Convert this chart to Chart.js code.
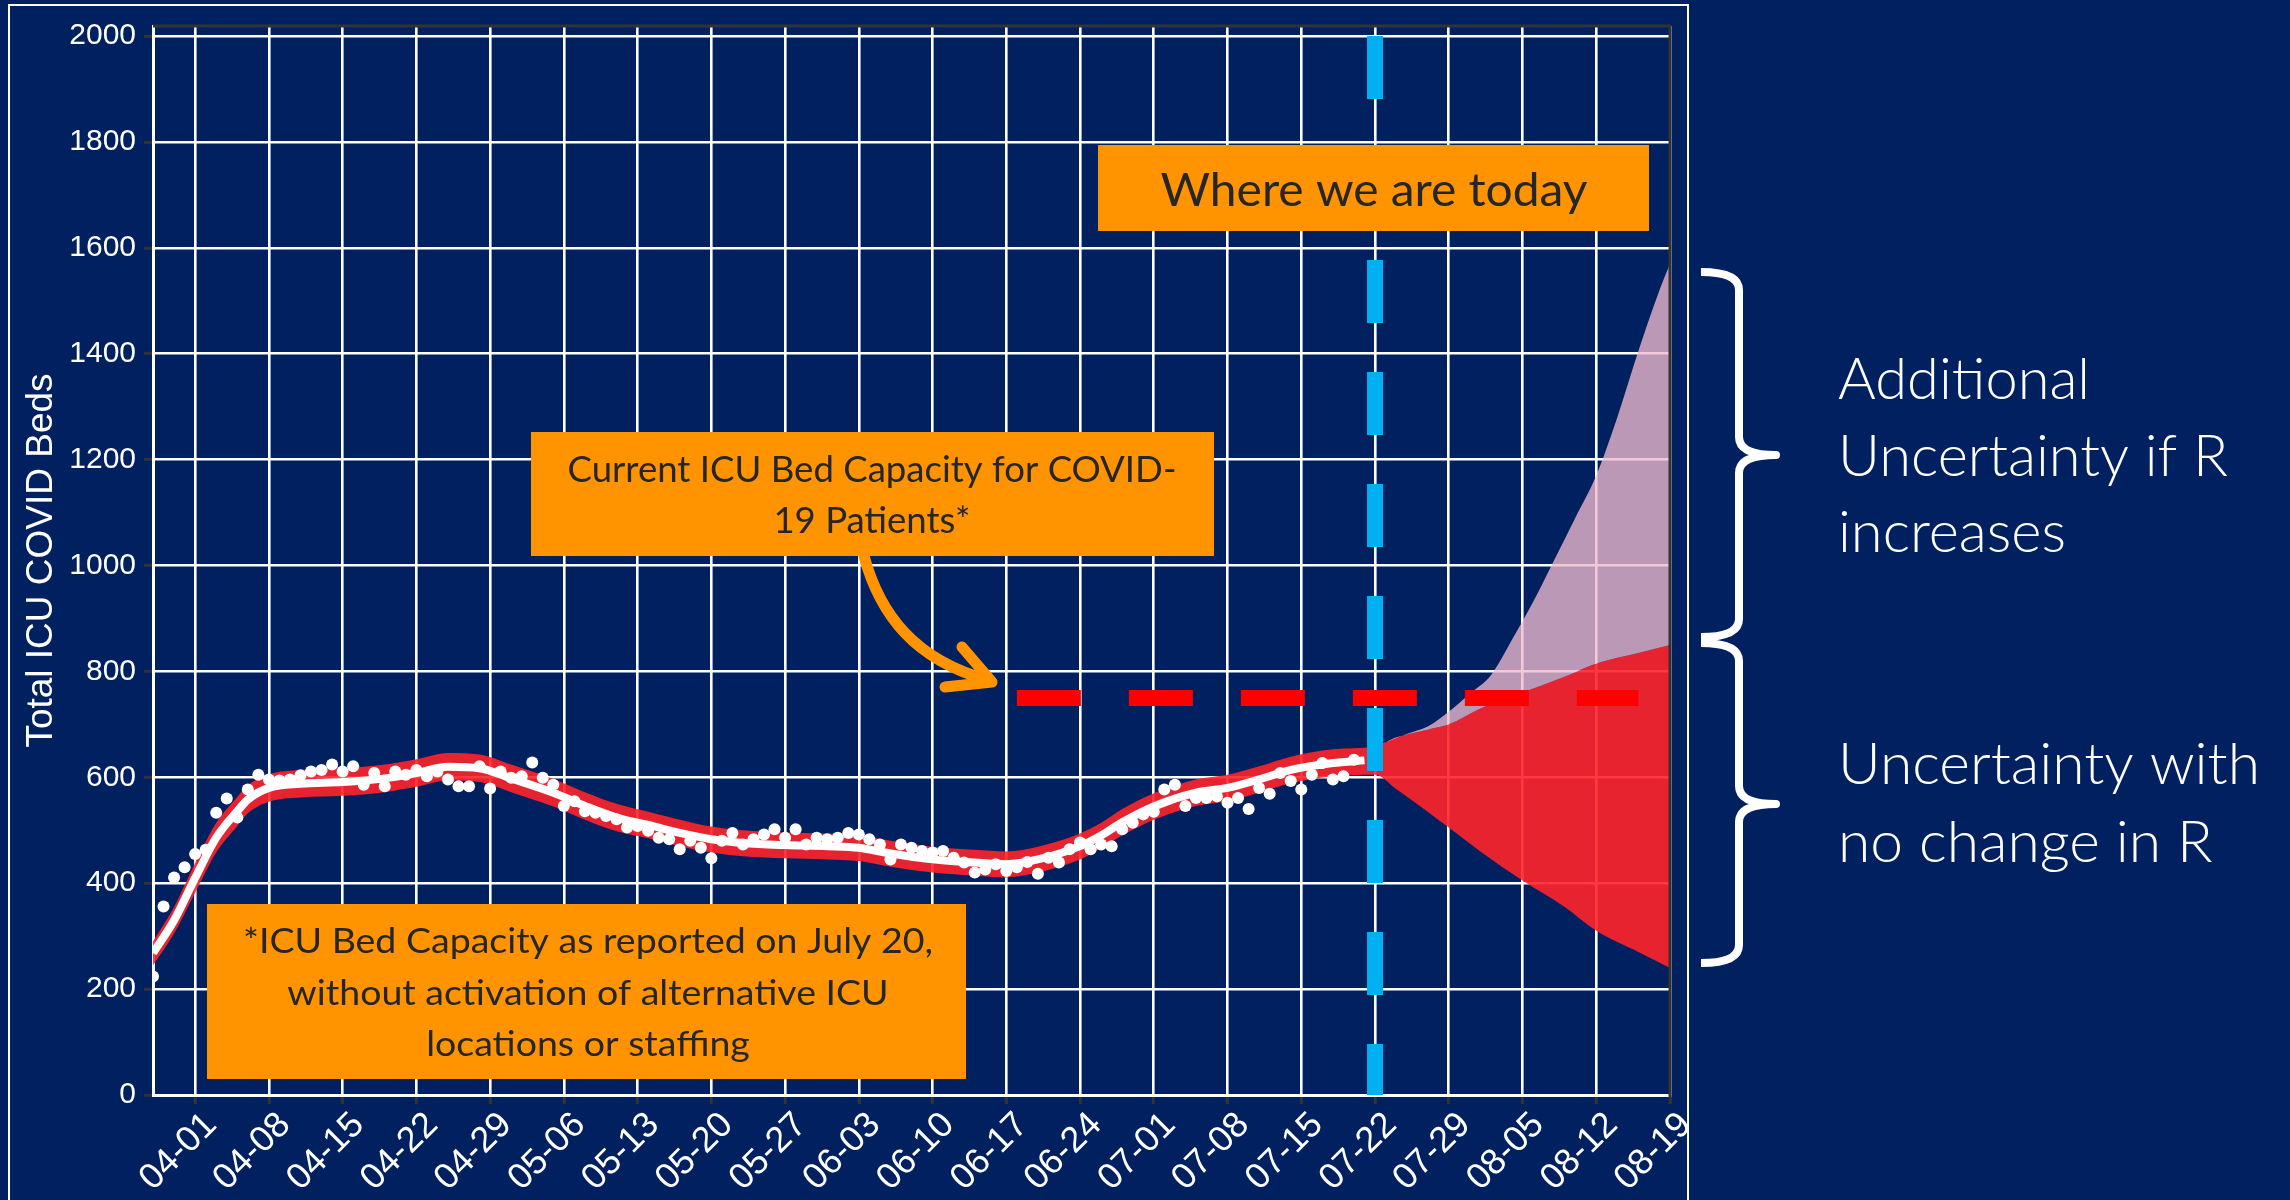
<!DOCTYPE html>
<html>
<head>
<meta charset="utf-8">
<script src="https://cdn.jsdelivr.net/npm/chart.js"></script>
<style>
  html, body { margin: 0; padding: 0; background: #002060; }
  canvas { display: block; }
</style>
</head>
<body>
<canvas id="icu" width="2290" height="1200" style="width:2290px;height:1200px"></canvas>
<script>
// ── Axis ticks (x values are days from 04-01) ──
const tickDays = [0, 7, 14, 21, 28, 35, 42, 49, 56, 63, 70, 77, 84, 91, 98, 105, 112, 119, 126, 133, 140];
const tickLabels = ['04-01', '04-08', '04-15', '04-22', '04-29', '05-06', '05-13', '05-20', '05-27', '06-03',
  '06-10', '06-17', '06-24', '07-01', '07-08', '07-15', '07-22', '07-29', '08-05', '08-12', '08-19'];
const yTicks = [0, 200, 400, 600, 800, 1000, 1200, 1400, 1600, 1800, 2000];

// ── Daily observed ICU beds, starting 03-28 (day -4) ──
const obsStartDay = -4;
const obsValues = [
  224, 356, 411, 430, 455, 463, 533, 560, 524, 577,
  605, 596, 594, 596, 604, 611, 614, 624, 611, 621,
  586, 608, 583, 611, 605, 614, 602, 611, 596, 583,
  583, 621, 579, 611, 599, 602, 628, 599, 586, 546,
  555, 536, 533, 527, 521, 505, 508, 499, 486, 483,
  464, 480, 467, 447, 480, 495, 473, 483, 492, 502,
  486, 502, 473, 486, 483, 486, 495, 492, 483, 473,
  445, 473, 467, 461, 458, 461, 448, 439, 420, 426,
  436, 423, 430, 440, 418, 448, 439, 464, 477, 464,
  473, 470, 502, 514, 530, 535, 577, 586, 546, 561,
  561, 564, 552, 561, 540, 580, 569, 608, 593, 577,
  605, 627, 596, 602, 633
];

// ── Model fit ──
const fitDays = [-4, -2, 0, 2, 4, 5, 7, 10, 14, 18, 21, 24, 27, 30, 34, 37, 40, 43, 46, 49, 52, 56, 60, 63,
  66, 70, 74, 77, 80, 84, 86, 88, 91, 95, 98, 101, 104, 108, 111];
const fitValues = [268, 330, 410, 486, 536, 558, 580, 588, 591, 598, 608, 620, 617, 598, 571, 546, 524, 510, 495,
  483, 476, 472, 470, 467, 456, 445, 439, 436, 445, 470, 490, 515, 545, 571, 580, 596, 614, 627, 632];

// ── Uncertainty band (no change in R) ──
const bandDays = [-4, -2, 0, 2, 4, 5, 7, 10, 14, 18, 21, 24, 27, 30, 34, 37, 40, 43, 46, 49, 52, 56, 60, 63,
  66, 70, 74, 77, 80, 84, 86, 88, 91, 95, 98, 101, 104, 108, 112,
  114, 117, 119, 122, 126, 130, 133, 137, 140];
const bandUpper = [290, 355, 438, 514, 563, 585, 606, 614, 617, 624, 634, 646, 643, 624, 597, 572, 550, 535, 520,
  507, 500, 496, 494, 491, 480, 469, 463, 460, 469, 494, 514, 540, 570, 596, 605, 621, 639, 653, 658,
  675, 690, 700, 730, 760, 790, 815, 835, 850];
const bandLower = [245, 305, 382, 458, 508, 532, 554, 562, 565, 572, 582, 594, 591, 572, 545, 520, 498, 485, 470,
  458, 451, 447, 445, 442, 431, 420, 414, 411, 420, 445, 466, 490, 520, 546, 555, 571, 589, 602, 605,
  578, 535, 505, 460, 405, 355, 310, 270, 240];

// ── Additional uncertainty if R increases (upper edge) ──
const riseDays = [112, 115, 117, 119, 121, 123, 125, 127, 129, 131, 133, 135, 137, 139, 140];
const riseUpper = [658, 682, 696, 724, 758, 793, 860, 931, 1010, 1090, 1170, 1280, 1405, 1520, 1570];

// ── Reference lines ──
const capacityBeds = 750;
const capacityDays = [78, 137];
const todayDay = 112;
const todaySpan = [2000, 0];

const pts = (days, vals) => days.map((d, i) => ({ x: d, y: vals[i] }));

const NAVY = '#002060';
const ORANGE = '#FF9400';
const BOX_TEXT = '#262626';

function drawLines(ctx, lines, x, baselines, font, color, fitWidth, align) {
  ctx.save();
  ctx.font = font;
  const widest = Math.max(...lines.map(l => ctx.measureText(l).width));
  const sx = fitWidth / widest;
  ctx.fillStyle = color;
  ctx.textAlign = align;
  ctx.textBaseline = 'alphabetic';
  lines.forEach((l, i) => {
    ctx.save();
    ctx.translate(x, baselines[i]);
    ctx.scale(sx, 1);
    ctx.fillText(l, 0, 0);
    ctx.restore();
  });
  ctx.restore();
}

function brace(ctx, x0, xs, xt, top, mid, bot) {
  const r = 18;
  ctx.beginPath();
  ctx.moveTo(x0, top);
  ctx.quadraticCurveTo(xs, top, xs, top + r);
  ctx.lineTo(xs, mid - r);
  ctx.quadraticCurveTo(xs, mid, xt, mid);
  ctx.quadraticCurveTo(xs, mid, xs, mid + r);
  ctx.lineTo(xs, bot - r);
  ctx.quadraticCurveTo(xs, bot, x0, bot);
  ctx.stroke();
}

const decorations = {
  id: 'decorations',
  beforeDraw(chart) {
    const ctx = chart.ctx;
    ctx.save();
    ctx.fillStyle = NAVY;
    ctx.fillRect(0, 0, chart.width, chart.height);
    ctx.restore();
  },
  afterDraw(chart) {
    const ctx = chart.ctx;
    const a = chart.chartArea;
    ctx.save();

    // plot frame top / right
    ctx.strokeStyle = '#333333';
    ctx.lineWidth = 3;
    ctx.beginPath();
    ctx.moveTo(a.left, a.top);
    ctx.lineTo(a.right, a.top);
    ctx.lineTo(a.right, a.bottom + 9);
    ctx.stroke();

    // outer white frame
    ctx.strokeStyle = '#ffffff';
    ctx.lineWidth = 2;
    ctx.strokeRect(9, 5, 1679, 1210);

    // arrow to capacity line
    ctx.strokeStyle = ORANGE;
    ctx.lineWidth = 11;
    ctx.lineCap = 'round';
    ctx.lineJoin = 'round';
    ctx.beginPath();
    ctx.moveTo(864, 556);
    ctx.bezierCurveTo(880, 615, 915, 660, 988, 680);
    ctx.stroke();
    ctx.beginPath();
    ctx.moveTo(962, 647);
    ctx.lineTo(992, 682);
    ctx.lineTo(945, 687);
    ctx.stroke();

    // orange boxes
    ctx.fillStyle = ORANGE;
    ctx.fillRect(1098, 145, 551, 86);
    ctx.fillRect(531, 432, 683, 124);
    ctx.fillRect(207, 904, 759, 175);

    drawLines(ctx, ['Where we are today'], 1374, [206],
      '46px Lato', BOX_TEXT, 427, 'center');
    drawLines(ctx, ['Current ICU Bed Capacity for COVID-', '19 Patients*'], 872, [482, 533],
      '37px Lato', BOX_TEXT, 609, 'center');
    drawLines(ctx, ['*ICU Bed Capacity as reported on July 20,', 'without activation of alternative ICU',
      'locations or staffing'], 588, [953, 1004.5, 1056],
      '35px Lato', BOX_TEXT, 690, 'center');

    // braces and side notes
    ctx.strokeStyle = '#ffffff';
    ctx.lineWidth = 8;
    ctx.lineCap = 'butt';
    brace(ctx, 1701, 1739, 1776, 272, 455, 637);
    brace(ctx, 1701, 1739, 1776, 643, 804, 963);

    drawLines(ctx, ['Additional', 'Uncertainty if R', 'increases'], 1838, [399, 475.5, 552],
      '300 58px Lato', '#ffffff', 390, 'left');
    drawLines(ctx, ['Uncertainty with', 'no change in R'], 1838, [784, 862],
      '300 58px Lato', '#ffffff', 422, 'left');

    ctx.restore();
  }
};

const FAMILY = 'Liberation Sans, Arial, sans-serif';

new Chart(document.getElementById('icu'), {
  type: 'line',
  data: {
    datasets: [
      { label: 'Observed', data: obsValues.map((v, i) => ({ x: obsStartDay + i, y: v })),
        showLine: false, pointRadius: 6, pointBackgroundColor: '#ffffff', pointBorderWidth: 0, order: 0 },
      { label: 'ICU capacity', data: capacityDays.map(d => ({ x: d, y: capacityBeds })),
        borderColor: '#FF0000', borderWidth: 16, borderDash: [64, 48], borderCapStyle: 'butt',
        pointRadius: 0, order: 1 },
      { label: 'Today', data: todaySpan.map(v => ({ x: todayDay, y: v })),
        borderColor: '#00B0F0', borderWidth: 16, borderDash: [63, 49], borderCapStyle: 'butt',
        pointRadius: 0, order: 2 },
      { label: 'Fit', data: pts(fitDays, fitValues), borderColor: '#ffffff', borderWidth: 8,
        cubicInterpolationMode: 'monotone', pointRadius: 0, order: 3 },
      { label: 'R increases', data: pts(riseDays, riseUpper), borderWidth: 0,
        backgroundColor: 'rgba(240,186,205,0.78)', fill: '+1',
        cubicInterpolationMode: 'monotone', pointRadius: 0, order: 4 },
      { label: 'Band upper', data: pts(bandDays, bandUpper), borderWidth: 0,
        backgroundColor: 'rgba(255,36,42,0.9)', fill: '+1',
        cubicInterpolationMode: 'monotone', pointRadius: 0, order: 5 },
      { label: 'Band lower', data: pts(bandDays, bandLower), borderWidth: 0,
        fill: false, cubicInterpolationMode: 'monotone', pointRadius: 0, order: 6 }
    ]
  },
  options: {
    responsive: false,
    animation: false,
    devicePixelRatio: 1,
    layout: { padding: { left: 0, right: 620, top: 22, bottom: 0 } },
    plugins: {
      legend: { display: false },
      tooltip: { enabled: false },
      filler: { propagate: false }
    },
    scales: {
      x: {
        type: 'linear', min: -4, max: 140,
        afterFit(s) { s.height = 105; },
        afterBuildTicks(s) { s.ticks = tickDays.map(v => ({ value: v })); },
        ticks: {
          callback: (v, i) => tickLabels[i],
          color: '#ffffff', font: { family: FAMILY, size: 36 }, minRotation: 45, maxRotation: 45,
          autoSkip: false, padding: 0, labelOffset: 16
        },
        grid: { color: '#ffffff', lineWidth: 2.6, tickColor: '#333333', tickLength: 9, tickWidth: 3 },
        border: { color: '#ffffff', width: 3 }
      },
      y: {
        min: 0, max: 2019,
        afterFit(s) { s.width = 153; },
        afterBuildTicks(s) { s.ticks = yTicks.map(v => ({ value: v })); },
        ticks: { callback: v => String(v), color: '#ffffff', font: { family: FAMILY, size: 30 }, padding: 8 },
        title: {
          display: true, text: 'Total ICU COVID Beds', color: '#ffffff',
          font: { family: FAMILY, size: 37 },
          padding: { top: 20, bottom: 0 }
        },
        grid: { color: '#ffffff', lineWidth: 2.6, tickColor: '#333333', tickLength: 9, tickWidth: 3 },
        border: { color: '#ffffff', width: 3 }
      }
    }
  },
  plugins: [decorations]
});
</script>
</body>
</html>
